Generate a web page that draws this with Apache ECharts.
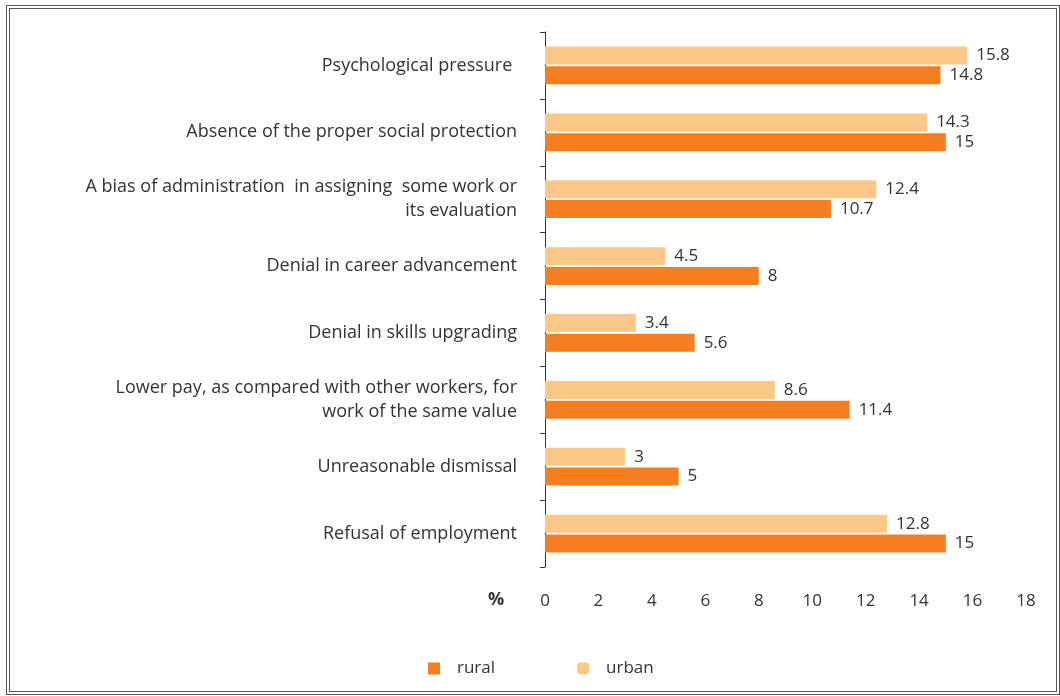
<!DOCTYPE html>
<html>
<head>
<meta charset="utf-8">
<script src="https://cdn.jsdelivr.net/npm/echarts@6/dist/echarts.min.js"></script>
<style>
  html, body { margin: 0; padding: 0; background: #fff; }
  #chart { width: 1060px; height: 696px; }
  #frame { position: absolute; left: 6px; top: 5px; width: 1046px; height: 682px; border: 4px double #555; pointer-events: none; }
</style>
</head>
<body>
<div id="chart"></div>
<div id="frame"></div>
<script>
var categories = [
  'Psychological pressure ',
  'Absence of the proper social protection',
  'A bias of administration  in assigning  some work or\nits evaluation',
  'Denial in career advancement',
  'Denial in skills upgrading',
  'Lower pay, as compared with other workers, for\nwork of the same value',
  'Unreasonable dismissal',
  'Refusal of employment'
];
var urban = [15.8, 14.3, 12.4, 4.5, 3.4, 8.6, 3, 12.8];
var rural = [14.8, 15, 10.7, 8, 5.6, 11.4, 5, 15];
var xTicks = { min: 0, max: 18, interval: 2 };

var chartDom = document.getElementById('chart');
var myChart = echarts.init(chartDom);
var font = 'Open Sans';

var option = {
  animation: false,
  textStyle: { fontFamily: font },
  grid: { left: 545, right: 34, top: 32, bottom: 129 },
  legend: {
    data: [
      { name: 'rural', icon: 'rect' },
      { name: 'urban', icon: 'roundRect' }
    ],
    left: 423,
    top: 655,
    itemWidth: 12,
    itemHeight: 12,
    itemGap: 82,
    textStyle: { fontSize: 17, color: '#333', fontFamily: font, padding: [0, 0, 0, 12] }
  },
  graphic: [
    { type: 'text', left: 488, top: 591, style: { text: '%', fontSize: 18, fontWeight: 'bold', fill: '#333', fontFamily: font } }
  ],
  xAxis: {
    type: 'value',
    min: xTicks.min, max: xTicks.max, interval: xTicks.interval,
    axisLine: { show: false },
    axisTick: { show: false },
    splitLine: { show: false },
    axisLabel: { fontSize: 17, color: '#333', margin: 26 }
  },
  yAxis: {
    type: 'category',
    inverse: true,
    data: categories,
    axisLine: { show: true, lineStyle: { color: '#333', width: 1 } },
    axisTick: { show: true, length: 5, lineStyle: { color: '#333' } },
    axisLabel: { fontSize: 18, color: '#333', margin: 28, lineHeight: 24, align: 'right' }
  },
  series: [
    {
      name: 'urban', type: 'bar', data: urban,
      barWidth: 18, barGap: '10%',
      itemStyle: { color: '#FBC888' },
      label: { show: true, position: 'right', distance: 9, fontSize: 17, color: '#333' }
    },
    {
      name: 'rural', type: 'bar', data: rural,
      barWidth: 18, barGap: '10%',
      itemStyle: { color: '#F57F20' },
      label: { show: true, position: 'right', distance: 9, fontSize: 17, color: '#333' }
    }
  ]
};

option && myChart.setOption(option);
</script>
</body>
</html>
